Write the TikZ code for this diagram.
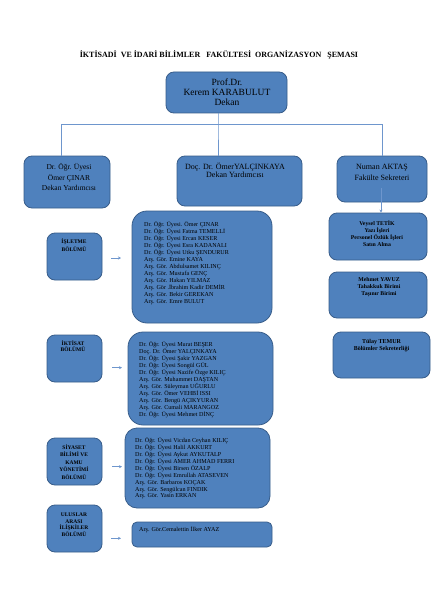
\documentclass[tikz,border=0pt]{standalone}
\usepackage{fontspec}
\setmainfont{Liberation Serif}
\usetikzlibrary{arrows.meta}
\definecolor{boxfill}{HTML}{4F81BD}
\definecolor{boxline}{HTML}{385D8A}
\definecolor{treeline}{RGB}{110,150,205}
\newcommand\fsz[2]{\fontsize{#1}{#2}\selectfont}
\tikzset{
  bx/.style={draw=boxline, fill=boxfill, line width=0.8pt, rounded corners=8pt, inner sep=0pt},
  txt/.style={inner sep=0pt, align=center, text=black},
  ltxt/.style={inner sep=0pt, align=left, anchor=west, text=black, font=\fsz{6.1}{7.05}},
  tree/.style={draw=treeline, line width=1pt},
  arr/.style={draw=treeline, line width=1pt, -{Stealth[length=3pt,width=3pt]}}
}
\begin{document}
\begin{tikzpicture}[x=1pt,y=-1pt]
\useasboundingbox[fill=white] (0,0) rectangle (439,591);
% title
\node[txt, font=\bfseries\fsz{8}{9}] (title) at (219,55) {İKTİSADİ~ VE İDARİ BİLİMLER~~ FAKÜLTESİ~ ORGANİZASYON~~ ŞEMASI};
% dean
\node[bx, minimum width=121pt, minimum height=41pt] (dean) at (226.5,92.5) {};
\node[txt, font=\fsz{9.5}{10}] (deanT) at (227,92.5) {Prof.Dr.\\Kerem KARABULUT\\Dekan};
% top boxes
\node[bx, minimum width=86pt, minimum height=52pt] (dp1) at (67,182) {};
\node[bx, minimum width=125pt, minimum height=50pt] (dp2) at (239.5,181) {};
\node[bx, minimum width=90pt, minimum height=46pt] (dp3) at (382,179) {};
\node[txt, font=\fsz{7.5}{10.5}] (dp1T) at (69,177) {Dr. Öğr. Üyesi\\Ömer ÇINAR\\Dekan Yardımcısı};
\node[txt, font=\fsz{8}{8}] (dp2T) at (235,170.5) {Doç. Dr. ÖmerYALÇINKAYA\\Dekan Yardımcısı};
\node[txt, font=\fsz{8}{11.5}] (dp3T) at (382,172.5) {Numan AKTAŞ\\Fakülte Sekreteri};
% tree
\coordinate (j) at (218,124);
\coordinate (hl) at (61,124);
\coordinate (hr) at (382,124);
\draw[tree] (dean.south -| j) -- (j) -- (dp2.north -| j);
\draw[tree] (dp1.north -| hl) |- (hr) -- (dp3.north -| hr);
% right column
\node[bx, minimum width=98pt, minimum height=47pt] (r1) at (378,236.5) {};
\node[bx, minimum width=98pt, minimum height=46pt] (r2) at (378,295) {};
\node[bx, minimum width=97pt, minimum height=46pt] (r3) at (381.5,355) {};
\node[txt, font=\bfseries\fsz{5.8}{7}] (r1T) at (377,233.5) {Veysel TETİK\\Yazı İşleri\\Personel Özlük İşleri\\Satın Alma};
\node[txt, font=\bfseries\fsz{5.8}{7}] (r2T) at (379,287) {Mehmet YAVUZ\\Tahakkuk Birimi\\Taşınır Birimi};
\node[txt, font=\bfseries\fsz{6}{7.6}] (r3T) at (381.5,345.5) {Tülay TEMUR\\Bölümler Sekreterliği};
\coordinate (ns) at (381,188);
\draw[arr] (ns) -- (r1.north -| ns);
% department boxes
\node[bx, minimum width=55pt, minimum height=47pt] (isl) at (74.5,256.5) {};
\node[bx, minimum width=55pt, minimum height=47pt] (ikt) at (74.5,358.5) {};
\node[bx, minimum width=55pt, minimum height=47pt] (siy) at (74.5,461.5) {};
\node[bx, minimum width=55pt, minimum height=47pt] (ulu) at (74.5,528.5) {};
\node[txt, font=\bfseries\fsz{5.5}{8}] (islT) at (74,245) {İŞLETME\\BÖLÜMÜ};
\node[txt, font=\bfseries\fsz{5.5}{6.5}] (iktT) at (73,346) {İKTİSAT\\BÖLÜMÜ};
\node[txt, font=\bfseries\fsz{5.5}{7.6}] (siyT) at (74,462) {SİYASET\\BİLİMİ VE\\KAMU\\YÖNETİMİ\\BÖLÜMÜ};
\node[txt, font=\bfseries\fsz{5.5}{6.5}] (uluT) at (74,524.7) {ULUSLAR\\ARASI\\İLİŞKİLER\\BÖLÜMÜ};
% list boxes
\node[bx, rounded corners=15pt, minimum width=140pt, minimum height=112pt] (l1) at (202,267) {};
\node[bx, rounded corners=15pt, minimum width=145pt, minimum height=93pt] (l2) at (200.5,378.5) {};
\node[bx, rounded corners=12pt, minimum width=145pt, minimum height=80pt] (l3) at (197.5,468) {};
\node[bx, rounded corners=5pt, minimum width=140pt, minimum height=25pt] (l4) at (202,534.5) {};
\node[ltxt] (l1T) at (144,263) {Dr. Öğr. Üyesi. Ömer ÇINAR\\Dr. Öğr. Üyesi Fatma TEMELLİ\\Dr. Öğr. Üyesi Ercan KESER\\Dr. Öğr. Üyesi Esra KADANALI\\Dr. Öğr. Üyesi Utku ŞENDURUR\\Arş. Gör. Emine KAYA\\Arş. Gör. Abdulsamet KILINÇ\\Arş. Gör. Mustafa GENÇ\\Arş. Gör. Hakan YILMAZ\\Arş. Gör .İbrahim Kadir DEMİR\\Arş. Gör. Bekir GEREKAN\\Arş. Gör. Emre BULUT};
\node[ltxt, font=\fsz{6.1}{7}] (l2T) at (139,379.7) {Dr. Öğr. Üyesi Murat BEŞER\\Doç. Dr. Ömer YALÇINKAYA\\Dr. Öğr. Üyesi Şakir YAZGAN\\Dr. Öğr. Üyesi Songül GÜL\\Dr. Öğr. Üyesi Nazife Özge KILIÇ\\Arş. Gör. Muhammet DAŞTAN\\Arş. Gör. Süleyman UĞURLU\\Arş. Gör. Ömer VEHBİ ISSI\\Arş. Gör. Bengü AÇIKYURAN\\Arş. Gör. Cumali MARANGOZ\\Dr. Öğr. Üyesi Mehmet DİNÇ};
\node[ltxt, font=\fsz{6.1}{6.9}] (l3T) at (135,468.5) {Dr. Öğr. Üyesi Vicdan Ceyhan KILIÇ\\Dr. Öğr. Üyesi Halil AKKURT\\Dr. Öğr. Üyesi Aykut AYKUTALP\\Dr. Öğr. Üyesi AMER AHMAD FERRI\\Dr. Öğr. Üyesi Birsen ÖZALP\\Dr. Öğr. Üyesi Emrullah ATASEVEN\\Arş. Gör. Barbaros KOÇAK\\Arş. Gör. Sengülcan FINDIK\\Arş. Gör. Yasin ERKAN};
\node[ltxt] (l4T) at (139,530) {Arş. Gör.Cemalettin İlker AYAZ};
% arrows
\coordinate (a1) at (111,258);
\coordinate (a2) at (112,367.7);
\coordinate (a3) at (112,466.7);
\coordinate (a4) at (111,538.3);
\draw[arr] (a1) -- ++(10,0);
\draw[arr] (a2) -- ++(10,0);
\draw[arr] (a3) -- ++(10,0);
\draw[arr] (a4) -- ++(10,0);
\end{tikzpicture}
\end{document}
